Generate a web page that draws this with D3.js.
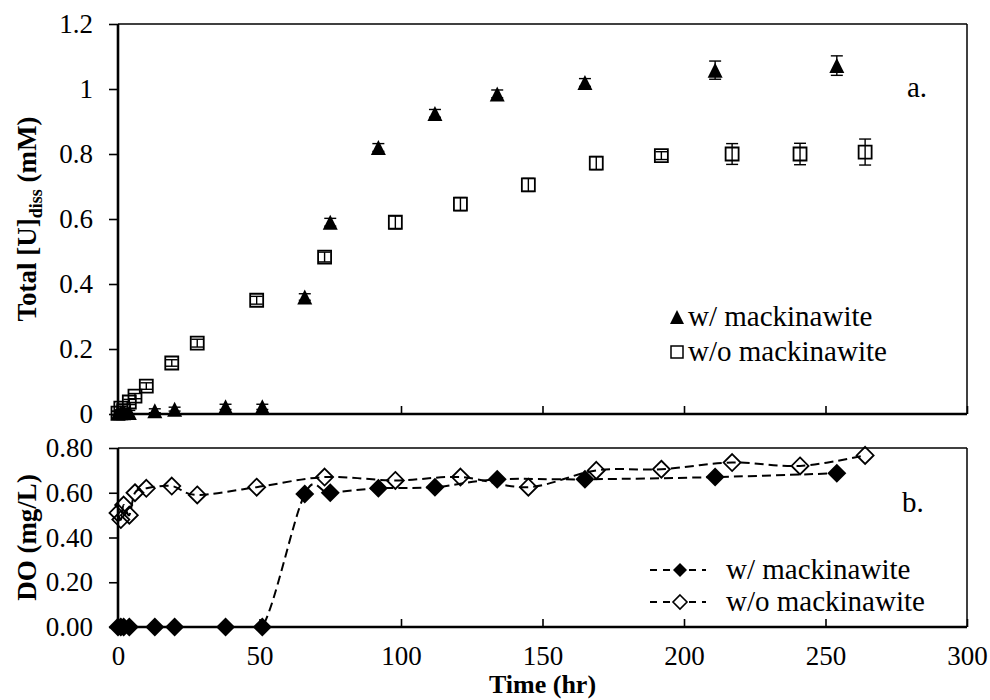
<!DOCTYPE html>
<html>
<head>
<meta charset="utf-8">
<script src="https://cdn.jsdelivr.net/npm/d3@7"></script>
<style>
  body { margin: 0; background: #fff; }
  svg { font-family: "Liberation Serif", "Times New Roman", serif; }
</style>
</head>
<body>
<svg id="chart" width="990" height="700"></svg>
<script>
// Panel a: total dissolved U (mM)
const uTimesWith = [0, 1, 2, 4, 13, 20, 38, 51, 66, 75, 92, 112, 134, 165, 211, 254];
const uWith = [0.003, 0.004, 0.004, 0.005, 0.010, 0.015, 0.022, 0.022, 0.36, 0.59, 0.82, 0.925, 0.985, 1.02, 1.058, 1.072];
const uWithErr = [0.006, 0.006, 0.006, 0.006, 0.006, 0.006, 0.008, 0.008, 0.01, 0.012, 0.012, 0.012, 0.012, 0.012, 0.028, 0.03];

const uTimesWithout = [0, 1, 2, 4, 6, 10, 19, 28, 49, 73, 98, 121, 145, 169, 192, 217, 241, 264];
const uWithout = [0.003, 0.018, 0.01, 0.037, 0.055, 0.086, 0.157, 0.218, 0.35, 0.483, 0.59, 0.646, 0.705, 0.772, 0.795, 0.80, 0.80, 0.806];
const uWithoutErr = [0.005, 0.005, 0.005, 0.008, 0.008, 0.01, 0.01, 0.012, 0.012, 0.015, 0.02, 0.02, 0.02, 0.02, 0.012, 0.032, 0.033, 0.04];

// Panel b: dissolved oxygen (mg/L)
const doTimesWith = [0, 1, 2, 4, 13, 20, 38, 51, 66, 75, 92, 112, 134, 165, 211, 254];
const doWith = [0, 0, 0, 0, 0, 0, 0, 0, 0.594, 0.60, 0.62, 0.625, 0.66, 0.66, 0.67, 0.687];

const doTimesWithout = [0, 1, 2, 4, 6, 10, 19, 28, 49, 73, 98, 121, 145, 169, 192, 217, 241, 264];
const doWithout = [0.51, 0.48, 0.545, 0.50, 0.60, 0.62, 0.63, 0.59, 0.625, 0.67, 0.655, 0.67, 0.625, 0.70, 0.705, 0.735, 0.72, 0.767];

const xTicks = [0, 50, 100, 150, 200, 250, 300];
const yTopTicks = [0, 0.2, 0.4, 0.6, 0.8, 1, 1.2];
const yBotTicks = [0, 0.2, 0.4, 0.6, 0.8];

const svg = d3.select("#chart");

const x = d3.scaleLinear().domain([0, 300]).range([118, 967]);
const yTop = d3.scaleLinear().domain([0, 1.2]).range([414, 24]);
const yBot = d3.scaleLinear().domain([0, 0.8]).range([627, 448]);

const zip = (ts, vs, es) => ts.map((t, i) => ({ t, v: vs[i], e: es ? es[i] : 0 }));

// marker shapes (centered on the data point)
const triPath = s => `M0,${-s / 2}L${s / 2},${s / 2}L${-s / 2},${s / 2}Z`;
const sqPath = s => `M${-s / 2},${-s / 2}h${s}v${s}h${-s}Z`;
const diaPath = s => `M0,${-s / 2}L${s / 2},0L0,${s / 2}L${-s / 2},0Z`;

function styleAxis(g, fontSize) {
  g.select(".domain").remove();
  g.attr("font-family", null);
  g.selectAll(".tick line").attr("stroke", "#000").attr("stroke-width", 1.6);
  g.selectAll(".tick text")
    .attr("fill", "#000")
    .style("font-family", "'Liberation Serif', serif")
    .style("font-size", fontSize + "px");
}

function frame(y, yTicks, fmt) {
  // top and right border
  svg.append("line")
    .attr("x1", x(0)).attr("x2", x(300))
    .attr("y1", y.range()[1]).attr("y2", y.range()[1])
    .attr("stroke", "#000").attr("stroke-width", 1.5);
  svg.append("line")
    .attr("x1", x(300)).attr("x2", x(300))
    .attr("y1", y.range()[0]).attr("y2", y.range()[1])
    .attr("stroke", "#000").attr("stroke-width", 1.5);

  const gy = svg.append("g")
    .attr("transform", `translate(${x(0)},0)`)
    .call(d3.axisLeft(y).tickValues(yTicks).tickFormat(fmt)
      .tickSizeInner(9).tickSizeOuter(0).tickPadding(16));
  styleAxis(gy, 27);

  // axis lines drawn thicker
  svg.append("line")
    .attr("x1", x(0)).attr("x2", x(0))
    .attr("y1", y.range()[0] + 1).attr("y2", y.range()[1])
    .attr("stroke", "#000").attr("stroke-width", 2.6);
}

// ---- Panel a ----
frame(yTop, yTopTicks, d => d3.format("~g")(d));
const gxTop = svg.append("g")
  .attr("transform", `translate(0,${yTop(0)})`)
  .call(d3.axisBottom(x).tickValues(xTicks.slice(1)).tickFormat("")
    .tickSizeInner(-8).tickSizeOuter(0));
styleAxis(gxTop, 27);
svg.append("line")
  .attr("x1", x(0) - 1).attr("x2", x(300))
  .attr("y1", yTop(0)).attr("y2", yTop(0))
  .attr("stroke", "#000").attr("stroke-width", 2.6);

function errorBars(data, y) {
  const g = svg.append("g").attr("stroke", "#000").attr("stroke-width", 1.4);
  g.selectAll("line.v").data(data).join("line")
    .attr("x1", d => x(d.t)).attr("x2", d => x(d.t))
    .attr("y1", d => y(d.v - d.e)).attr("y2", d => y(d.v + d.e));
  [-1, 1].forEach(sgn => {
    g.selectAll(null).data(data).join("line")
      .attr("x1", d => x(d.t) - 6).attr("x2", d => x(d.t) + 6)
      .attr("y1", d => y(d.v + sgn * d.e)).attr("y2", d => y(d.v + sgn * d.e));
  });
}

const withU = zip(uTimesWith, uWith, uWithErr);
const withoutU = zip(uTimesWithout, uWithout, uWithoutErr);

errorBars(withoutU, yTop);
errorBars(withU, yTop);

svg.append("g").selectAll("path").data(withoutU).join("path")
  .attr("transform", d => `translate(${x(d.t)},${yTop(d.v)})`)
  .attr("d", sqPath(13))
  .attr("fill", "none").attr("stroke", "#000").attr("stroke-width", 1.8);

svg.append("g").selectAll("path").data(withU).join("path")
  .attr("transform", d => `translate(${x(d.t)},${yTop(d.v)})`)
  .attr("d", triPath(15))
  .attr("fill", "#000");

// legend a
const legA = svg.append("g").style("font-size", "29px");
legA.append("path").attr("transform", "translate(677,317)").attr("d", triPath(14)).attr("fill", "#000");
legA.append("path").attr("transform", "translate(677,352)").attr("d", sqPath(12))
  .attr("fill", "none").attr("stroke", "#000").attr("stroke-width", 1.5);
legA.append("text").attr("x", 688).attr("y", 326).text("w/ mackinawite");
legA.append("text").attr("x", 688).attr("y", 361).text("w/o mackinawite");
svg.append("text").attr("x", 907).attr("y", 97).style("font-size", "29px").text("a.");

// y title a
const tA = svg.append("text")
  .attr("transform", `translate(36,${(yTop(0) + yTop(1.2)) / 2}) rotate(-90)`)
  .attr("text-anchor", "middle")
  .style("font-size", "27px").style("font-weight", "bold");
tA.append("tspan").text("Total [U]");
tA.append("tspan").attr("dy", 6).style("font-size", "18px").text("diss");
tA.append("tspan").attr("dy", -6).text(" (mM)");

// ---- Panel b ----
frame(yBot, yBotTicks, d3.format(".2f"));
const gxBot = svg.append("g")
  .attr("transform", `translate(0,${yBot(0)})`)
  .call(d3.axisBottom(x).tickValues(xTicks).tickSizeInner(-8).tickSizeOuter(0).tickPadding(19));
styleAxis(gxBot, 27);
gxBot.selectAll(".tick line").filter(d => d === 0).remove();

const withDO = zip(doTimesWith, doWith);
const withoutDO = zip(doTimesWithout, doWithout);

// smoothed lines are clipped to the plot area, as in the spreadsheet chart
svg.append("clipPath").attr("id", "plotB").append("rect")
  .attr("x", x(0)).attr("y", yBot(0.8))
  .attr("width", x(300) - x(0)).attr("height", yBot(0) - yBot(0.8));

const line = d3.line().x(d => x(d.t)).y(d => yBot(d.v)).curve(d3.curveCatmullRom.alpha(0));

[withoutDO, withDO].forEach(data => {
  svg.append("path").datum(data)
    .attr("clip-path", "url(#plotB)")
    .attr("d", line)
    .attr("fill", "none").attr("stroke", "#000")
    .attr("stroke-width", 2).attr("stroke-dasharray", "9,5");
});

svg.append("line")
  .attr("x1", x(0) - 1).attr("x2", x(300))
  .attr("y1", yBot(0)).attr("y2", yBot(0))
  .attr("stroke", "#000").attr("stroke-width", 2.6);

svg.append("g").selectAll("path").data(withoutDO).join("path")
  .attr("transform", d => `translate(${x(d.t)},${yBot(d.v)})`)
  .attr("d", diaPath(17))
  .attr("fill", "none").attr("stroke", "#000").attr("stroke-width", 1.8);

svg.append("g").selectAll("path").data(withDO).join("path")
  .attr("transform", d => `translate(${x(d.t)},${yBot(d.v)})`)
  .attr("d", diaPath(19))
  .attr("fill", "#000");

// legend b
const legB = svg.append("g").style("font-size", "29px");
[[570, true, "w/ mackinawite"], [602, false, "w/o mackinawite"]].forEach(([ly, filled, label]) => {
  legB.append("line").attr("x1", 650).attr("x2", 706).attr("y1", ly).attr("y2", ly)
    .attr("stroke", "#000").attr("stroke-width", 2).attr("stroke-dasharray", "7,6");
  legB.append("path").attr("transform", `translate(680,${ly})`).attr("d", diaPath(14))
    .attr("fill", filled ? "#000" : "#fff").attr("stroke", "#000").attr("stroke-width", filled ? 0 : 1.6);
  legB.append("text").attr("x", 726).attr("y", ly + 9).text(label);
});
svg.append("text").attr("x", 902).attr("y", 512).style("font-size", "29px").text("b.");

// y title b
svg.append("text")
  .attr("transform", `translate(36,${(yBot(0) + yBot(0.8)) / 2}) rotate(-90)`)
  .attr("text-anchor", "middle")
  .style("font-size", "27px").style("font-weight", "bold")
  .text("DO (mg/L)");

// x title
svg.append("text")
  .attr("x", (x(0) + x(300)) / 2).attr("y", 693)
  .attr("text-anchor", "middle")
  .style("font-size", "26px").style("font-weight", "bold")
  .text("Time (hr)");
</script>
</body>
</html>
